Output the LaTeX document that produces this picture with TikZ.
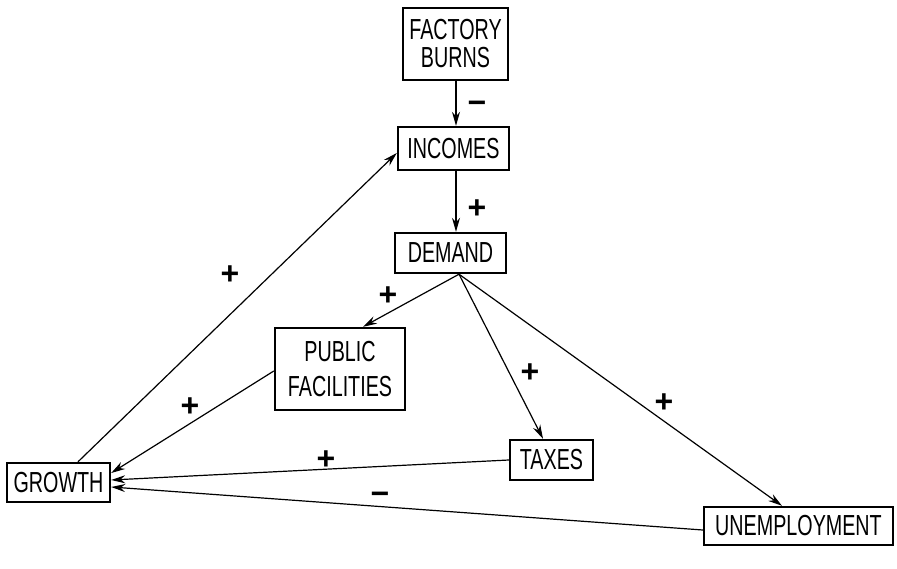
\documentclass[tikz,border=0pt]{standalone}
\usepackage{fontspec}
\setmainfont{Liberation Sans}[FakeStretch=0.68]
\newfontfamily\signfont{Liberation Sans}
\usetikzlibrary{arrows.meta}
\begin{document}
\begin{tikzpicture}[x=1pt,y=-1pt,
  box/.style={draw,line width=2.4pt,inner sep=0pt,font=\fontsize{29}{28}\selectfont,align=center},
  link/.style={line width=1.2pt,-{Stealth[length=14pt,width=8pt]}},
  sign/.style={font=\signfont\bfseries\fontsize{32}{32}\selectfont,inner sep=0pt}]
\useasboundingbox[fill=white] (0,0) rectangle (897,569);
\node[box,minimum width=105pt,minimum height=72pt] (factory) at (455.5,44) {FACTORY\\BURNS};
\node[box,minimum width=111pt,minimum height=43pt] (incomes) at (453.5,148.5) {INCOMES};
\node[box,minimum width=111pt,minimum height=40pt] (demand) at (450.5,253) {DEMAND};
\node[box,minimum width=130pt,minimum height=82pt] (pubfac) at (340,369) {PUBLIC\\[7pt]FACILITIES};
\node[box,minimum width=83pt,minimum height=40pt] (taxes) at (551.5,460) {TAXES};
\node[box,minimum width=103pt,minimum height=39pt] (growth) at (58.5,482.5) {GROWTH};
\node[box,minimum width=189pt,minimum height=38pt] (unemp) at (798.5,526) {UNEMPLOYMENT};

\draw[link] ([xshift=0.5pt]factory.south) -- ([xshift=2.5pt]incomes.north);
\draw[link] ([xshift=2.5pt]incomes.south) -- ([xshift=5.5pt]demand.north);
\draw[link] ([xshift=8.5pt]demand.south) -- ([xshift=23pt]pubfac.north);
\draw[link] ([xshift=8.5pt]demand.south) -- ([xshift=-8.5pt]taxes.north);
\draw[link] ([xshift=8.5pt]demand.south) -- ([xshift=-16.5pt]unemp.north);
\draw[link] ([yshift=-2pt]pubfac.west) -- ([yshift=9.5pt]growth.east);
\draw[link] (taxes.west) -- ([yshift=2.5pt]growth.east);
\draw[link] ([yshift=-4pt]unemp.west) -- ([yshift=-4.5pt]growth.east);
\draw[link] ([xshift=19.5pt]growth.north) -- ([yshift=-4.5pt]incomes.west);

\node[sign] (s1) at (477,107) {−};
\node[sign] (s2) at (477,209) {+};
\node[sign] (s3) at (388,296) {+};
\node[sign] (s4) at (530,373) {+};
\node[sign] (s5) at (664,403) {+};
\node[sign] (s6) at (230,275) {+};
\node[sign] (s7) at (190,407) {+};
\node[sign] (s8) at (326,460) {+};
\node[sign] (s9) at (380,498) {−};
\end{tikzpicture}
\end{document}
